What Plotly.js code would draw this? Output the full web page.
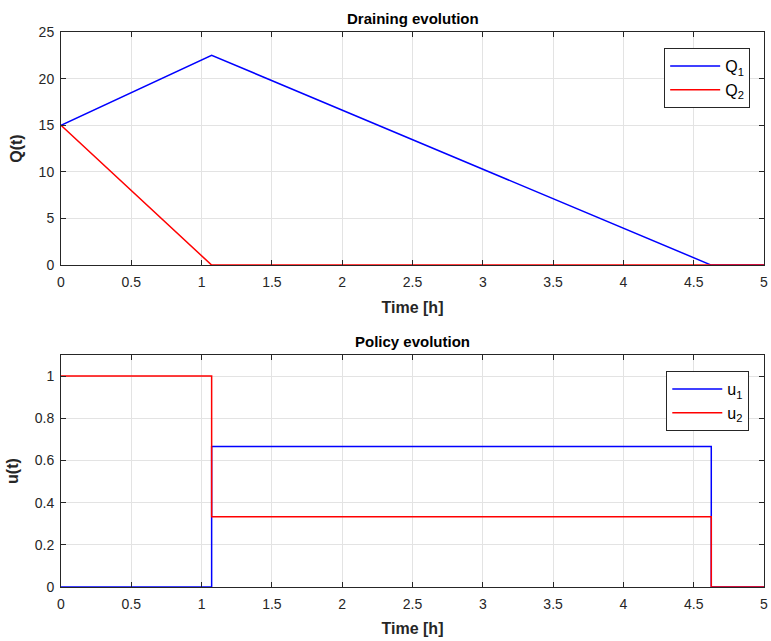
<!DOCTYPE html>
<html>
<head>
<meta charset="utf-8">
<script src="https://cdn.plot.ly/plotly-3.0.1.min.js"></script>
<style>html,body{margin:0;padding:0;background:#fff;}#chart{width:771px;height:641px;}</style>
</head>
<body>
<div id="chart"></div>
<script>
// Tank levels (breakpoints of the piecewise-linear trajectories)
const tQ = [0, 1.0714, 4.625, 5];
const Q1 = [15, 22.5, 0, 0];
const Q2 = [15, 0, 0, 0];

// Control policy (piecewise-constant, drawn as steps)
const tU = [0, 1.0714, 4.625, 5];
const u1 = [0, 0.6667, 0, 0];
const u2 = [1, 0.3333, 0, 0];

const font = {family: 'Liberation Sans, Arial, sans-serif', size: 14, color: '#262626'};
const ticks05 = [0, 0.5, 1, 1.5, 2, 2.5, 3, 3.5, 4, 4.5, 5];

function xAxis(anchor) {
  return {
    anchor: anchor, range: [0, 5], tickvals: ticks05, ticktext: ticks05.map(String),
    showgrid: true, gridcolor: '#e3e3e3', zeroline: false,
    showline: true, linecolor: '#262626', linewidth: 1, mirror: 'ticks',
    ticks: 'inside', ticklen: 5, tickcolor: '#262626', ticklabelstandoff: 4,
    title: {text: '<b>Time [h]</b>', font: {size: 16, color: '#262626'}, standoff: 12},
    tickfont: font
  };
}
function yAxis(anchor, domain, range, tickvals, ticktext, title) {
  return {
    anchor: anchor, domain: domain, range: range, tickvals: tickvals, ticktext: ticktext,
    showgrid: true, gridcolor: '#e3e3e3', zeroline: false,
    showline: true, linecolor: '#262626', linewidth: 1, mirror: 'ticks',
    ticks: 'inside', ticklen: 5, tickcolor: '#262626', ticklabelstandoff: 3,
    title: {text: '<b>' + title + '</b>', font: {size: 16, color: '#262626'}, standoff: 12},
    tickfont: font
  };
}

const traces = [
  {x: tQ, y: Q1, name: 'Q<sub>1</sub>', mode: 'lines', line: {color: '#0000ff', width: 1.5}, xaxis: 'x', yaxis: 'y', legend: 'legend'},
  {x: tQ, y: Q2, name: 'Q<sub>2</sub>', mode: 'lines', line: {color: '#ff0000', width: 1.5}, xaxis: 'x', yaxis: 'y', legend: 'legend'},
  {x: tU, y: u1, name: 'u<sub>1</sub>', mode: 'lines', line: {color: '#0000ff', width: 1.5, shape: 'hv'}, xaxis: 'x2', yaxis: 'y2', legend: 'legend2'},
  {x: tU, y: u2, name: 'u<sub>2</sub>', mode: 'lines', line: {color: '#ff0000', width: 1.5, shape: 'hv'}, xaxis: 'x2', yaxis: 'y2', legend: 'legend2'}
];

const legendStyle = {
  xanchor: 'left', yanchor: 'top', bgcolor: '#ffffff', bordercolor: '#262626', borderwidth: 1,
  font: {family: font.family, size: 16, color: '#000'}, tracegroupgap: 2, itemwidth: 50
};

const layout = {
  width: 771, height: 641,
  margin: {l: 61, r: 7, t: 32, b: 54},
  paper_bgcolor: '#ffffff', plot_bgcolor: '#ffffff',
  font: font,
  showlegend: true,
  xaxis: xAxis('y'),
  yaxis: yAxis('x', [0.58, 1], [0, 25], [0, 5, 10, 15, 20, 25], ['0', '5', '10', '15', '20', '25'], 'Q(t)'),
  xaxis2: xAxis('y2'),
  yaxis2: yAxis('x2', [0, 0.418], [0, 1.1], [0, 0.2, 0.4, 0.6, 0.8, 1], ['0', '0.2', '0.4', '0.6', '0.8', '1'], 'u(t)'),
  legend: Object.assign({x: 0.858, y: 0.971}, legendStyle),
  legend2: Object.assign({x: 0.861, y: 0.389}, legendStyle),
  annotations: [
    {text: '<b>Draining evolution</b>', xref: 'paper', yref: 'paper', x: 0.5, y: 1, yanchor: 'bottom', yshift: 3, showarrow: false, font: {size: 15, color: '#000'}},
    {text: '<b>Policy evolution</b>', xref: 'paper', yref: 'paper', x: 0.5, y: 0.418, yanchor: 'bottom', yshift: 3, showarrow: false, font: {size: 15, color: '#000'}}
  ]
};

Plotly.newPlot('chart', traces, layout, {displayModeBar: false, staticPlot: true});
</script>
</body>
</html>
